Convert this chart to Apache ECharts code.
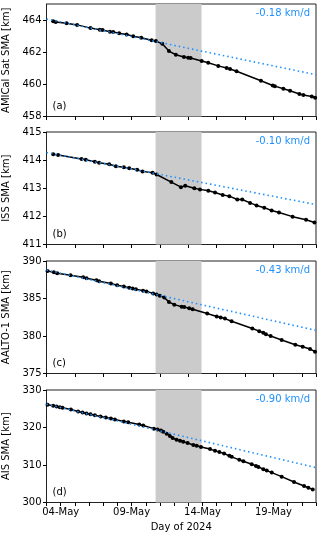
<!DOCTYPE html>
<html>
<head>
<meta charset="utf-8">
<script src="https://cdn.jsdelivr.net/npm/echarts@6/dist/echarts.min.js"></script>
<style>
  html, body { margin: 0; padding: 0; background: #fff; }
  #main { width: 320px; height: 539px; }
</style>
</head>
<body>
<div id="main"></div>
<script>
// day of May 2024 (fractional) and semi-major axis [km]
const aDays = [3.47, 3.65, 4.41, 5.16, 6.1, 6.76, 6.95, 7.47, 7.7, 8.12, 8.65, 9.11, 9.68, 10.41, 10.71, 11.16, 11.63, 12.12, 12.69, 12.99, 13.16, 13.94, 14.4, 15.11, 15.7, 15.94, 16.4, 18.12, 18.95, 19.1, 19.7, 20.17, 20.83, 21.11, 21.7, 21.94]
const aSma = [463.92, 463.88, 463.8, 463.7, 463.5, 463.4, 463.38, 463.28, 463.26, 463.18, 463.1, 463.0, 462.9, 462.75, 462.7, 462.52, 462.07, 461.84, 461.7, 461.66, 461.64, 461.45, 461.35, 461.15, 461.02, 460.96, 460.82, 460.22, 459.93, 459.89, 459.73, 459.6, 459.4, 459.34, 459.24, 459.17]

const bDays = [3.47, 3.82, 5.47, 5.77, 6.41, 6.71, 7.42, 7.89, 8.45, 8.83, 9.39, 9.77, 10.48, 10.76, 11.8, 12.48, 12.78, 13.42, 13.82, 14.41, 14.88, 15.42, 15.89, 16.45, 16.8, 17.35, 17.81, 18.35, 18.87, 19.39, 20.35, 21.3, 21.89]
const bSma = [414.21, 414.18, 414.04, 414.01, 413.94, 413.91, 413.85, 413.78, 413.75, 413.71, 413.66, 413.6, 413.55, 413.49, 413.22, 413.04, 413.09, 413.0, 412.96, 412.91, 412.85, 412.76, 412.72, 412.6, 412.6, 412.48, 412.39, 412.31, 412.21, 412.14, 411.99, 411.88, 411.78]

const cDays = [3.07, 3.52, 3.75, 4.69, 5.58, 5.82, 6.52, 6.71, 7.54, 7.98, 8.45, 8.83, 9.07, 9.3, 9.81, 10.05, 10.52, 10.76, 10.99, 11.3, 11.63, 12.01, 12.53, 12.71, 13.06, 13.3, 14.33, 15.0, 15.28, 15.58, 16.05, 17.51, 18.0, 18.28, 18.47, 18.8, 19.58, 20.54, 21.06, 21.58, 21.93]
const cSma = [388.68, 388.5, 388.37, 388.1, 387.84, 387.7, 387.44, 387.3, 387.0, 386.78, 386.6, 386.43, 386.34, 386.25, 386.03, 385.94, 385.68, 385.54, 385.37, 385.15, 384.53, 384.18, 383.91, 383.87, 383.69, 383.56, 382.99, 382.59, 382.46, 382.32, 381.97, 381.0, 380.65, 380.43, 380.25, 379.99, 379.46, 378.84, 378.57, 378.27, 377.91]

const dDays = [3.07, 3.47, 3.71, 3.94, 4.13, 4.72, 5.23, 5.54, 5.82, 6.1, 6.41, 6.81, 7.18, 7.54, 7.82, 8.45, 8.76, 9.54, 9.82, 10.57, 10.83, 11.07, 11.23, 11.47, 11.7, 11.89, 12.17, 12.41, 12.64, 12.95, 13.35, 13.59, 13.89, 14.53, 14.88, 15.19, 15.52, 15.89, 16.06, 16.59, 16.88, 17.47, 17.77, 17.94, 18.29, 18.53, 18.88, 19.58, 20.45, 21.16, 21.46, 21.77]
const dSma = [326.06, 325.79, 325.61, 325.43, 325.26, 324.81, 324.27, 324.0, 323.73, 323.55, 323.29, 322.93, 322.66, 322.39, 322.12, 321.58, 321.41, 320.78, 320.51, 319.7, 319.44, 319.17, 318.9, 318.36, 317.74, 317.2, 316.75, 316.48, 316.21, 315.86, 315.32, 315.14, 314.78, 314.24, 313.8, 313.44, 313.08, 312.45, 312.18, 311.38, 311.02, 310.21, 309.76, 309.5, 308.87, 308.51, 307.98, 306.9, 305.47, 304.4, 303.95, 303.5]

// pre-storm linear trend, end points
const trendDays = [3, 22]
const aTrend = [464.07, 460.6]
const bTrend = [414.27, 412.42]
const cTrend = [388.8, 380.75]
const dTrend = [326.2, 309.3]

const stormWindow = [10.69, 13.93]
const dayLabels = [4, 9, 14, 19]

const panels = [
  { name: 'AMICal Sat SMA [km]', tag: '(a)', rate: '-0.18 km/d', days: aDays, sma: aSma, trend: aTrend, min: 458, max: 465, interval: 2, hideMax: true },
  { name: 'ISS SMA [km]', tag: '(b)', rate: '-0.10 km/d', days: bDays, sma: bSma, trend: bTrend, min: 411, max: 415, interval: 1 },
  { name: 'AALTO-1 SMA [km]', tag: '(c)', rate: '-0.43 km/d', days: cDays, sma: cSma, trend: cTrend, min: 375, max: 390, interval: 5 },
  { name: 'AIS SMA [km]', tag: '(d)', rate: '-0.90 km/d', days: dDays, sma: dSma, trend: dTrend, min: 300, max: 330, interval: 10 }
]

const tops = [4, 132, 261, 390]
const plotH = 112.5
const left = 46.5
const right = 4
const font = 'DejaVu Sans'
const blue = '#1e90ff'
const axisColor = '#000'

const chart = echarts.init(document.getElementById('main'), null, { renderer: 'canvas' })

const grid = [], xAxis = [], yAxis = [], series = [], graphic = []

panels.forEach((p, i) => {
  const last = i === panels.length - 1
  grid.push({
    left: left, right: right, top: tops[i], height: plotH,
    outerBoundsMode: 'none', containLabel: false,
    show: true, borderColor: '#222', borderWidth: 1, backgroundColor: 'transparent'
  })
  xAxis.push({
    type: 'value', gridIndex: i, min: 3, max: 22,
    interval: last ? 1 : 2,
    axisLine: { show: true, onZero: false, lineStyle: { color: '#222' } },
    axisTick: { show: true, length: 3.5, lineStyle: { color: axisColor } },
    splitLine: { show: false },
    axisLabel: {
      show: last, color: '#000', fontFamily: font, fontSize: 10, margin: 5,
      formatter: v => dayLabels.includes(v) ? String(v).padStart(2, '0') + '-May' : ''
    },
    name: last ? 'Day of 2024' : '', nameLocation: 'middle', nameGap: 20,
    nameTextStyle: { color: '#000', fontFamily: font, fontSize: 10 }
  })
  yAxis.push({
    type: 'value', gridIndex: i, min: p.min, max: p.max, interval: p.interval,
    axisLine: { show: true, lineStyle: { color: '#222' } },
    axisTick: { show: true, length: 3.5, lineStyle: { color: axisColor } },
    splitLine: { show: false },
    axisLabel: { color: '#000', fontFamily: font, fontSize: 10, margin: 5, showMaxLabel: !p.hideMax },
    name: p.name, nameLocation: 'middle', nameGap: 34,
    nameTextStyle: { color: '#000', fontFamily: font, fontSize: 10 }
  })
  series.push({
    type: 'line', xAxisIndex: i, yAxisIndex: i,
    data: p.days.map((d, k) => [d, p.sma[k]]),
    symbol: 'circle', symbolSize: 4, showSymbol: true,
    itemStyle: { color: '#000' },
    lineStyle: { color: '#000', width: 1.5 },
    z: 3, animation: false,
    markArea: {
      silent: true,
      itemStyle: { color: '#cbcbcb' },
      data: [[{ xAxis: stormWindow[0] }, { xAxis: stormWindow[1] }]],
      z: 1
    }
  })
  series.push({
    type: 'line', xAxisIndex: i, yAxisIndex: i,
    data: trendDays.map((d, k) => [d, p.trend[k]]),
    symbol: 'none',
    lineStyle: { color: blue, width: 1.6, type: [1.5, 3] },
    z: 4, animation: false
  })
  graphic.push({
    type: 'text', right: 10, top: tops[i] + 4,
    style: { text: p.rate, fill: blue, font: '10px "DejaVu Sans"' }
  })
  graphic.push({
    type: 'text', left: left + 6, top: tops[i] + plotH - 15,
    style: { text: p.tag, fill: '#000', font: '10px "DejaVu Sans"' }
  })
})

chart.setOption({
  animation: false,
  grid, xAxis, yAxis, series, graphic
})
</script>
</body>
</html>
